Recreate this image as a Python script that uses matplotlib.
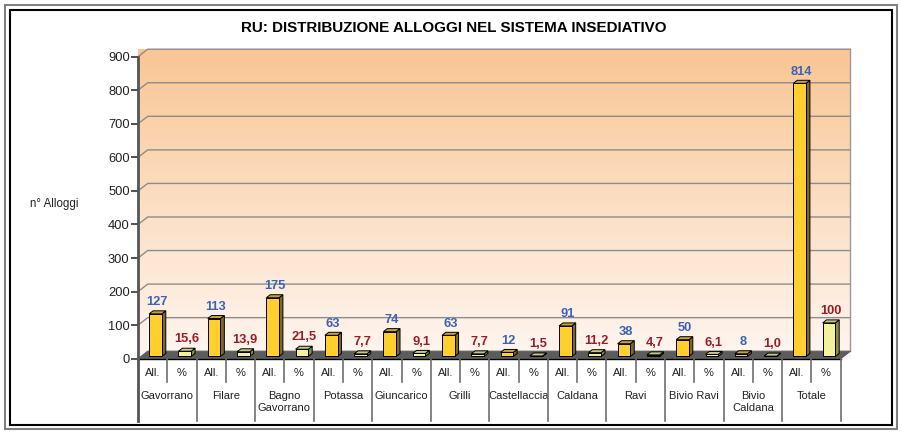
import numpy as np
import matplotlib
matplotlib.use('Agg')
import matplotlib.pyplot as plt
from matplotlib.patches import Polygon, Rectangle

plt.rcParams['font.family'] = ['Liberation Sans', 'DejaVu Sans']

# --- data ---
localita = ['Gavorrano', 'Filare', 'Bagno\nGavorrano', 'Potassa', 'Giuncarico',
            'Grilli', 'Castellaccia', 'Caldana', 'Ravi', 'Bivio Ravi',
            'Bivio\nCaldana', 'Totale']
alloggi = [127, 113, 175, 63, 74, 63, 12, 91, 38, 50, 8, 814]
percent = [15.6, 13.9, 21.5, 7.7, 9.1, 7.7, 1.5, 11.2, 4.7, 6.1, 1.0, 100]
sub_labels = ['All.', '%']
yticks = list(range(0, 1000, 100))

W, H = 903, 432
fig = plt.figure(figsize=(W / 100, H / 100), dpi=100)

# front plot box in pixels
x_left, x_right = 138, 840.7
y_zero, y_top = 358.7, 56.7
ax = fig.add_axes([x_left / W, 1 - y_zero / H, (x_right - x_left) / W, (y_zero - y_top) / H])
nslot = 2 * len(localita)

sx = (x_right - x_left) / nslot   # px per slot
sy = (y_zero - y_top) / 900       # px per unit
ddx = 9.7 / sx
ddy = 7.5 / sy

# back + side wall with gradient
grad = np.linspace(0, 1, 256)[:, None]
top_c = np.array([249, 198, 148]) / 255
bot_c = np.array([255, 246, 241]) / 255
img = bot_c[None, None, :] * (1 - grad[..., None]) + top_c[None, None, :] * grad[..., None]
im = ax.imshow(img, extent=[0, nslot + ddx, 0, 900 + ddy], origin='lower',
               aspect='auto', zorder=0, clip_on=False)
wall = Polygon([(0, 0), (0, 900), (ddx, 900 + ddy), (nslot + ddx, 900 + ddy),
                (nslot + ddx, ddy), (nslot, 0)], closed=True, facecolor='none',
               edgecolor='none', transform=ax.transData)
ax.add_patch(wall)
im.set_clip_path(wall)
ax.set_xlim(0, nslot)
ax.set_ylim(0, 900)

# gridlines
for v in yticks[1:]:
    ax.plot([0, ddx, nslot + ddx], [v, v + ddy, v + ddy], color='#8c8c8c',
            lw=1, zorder=1, clip_on=False)
ax.plot([nslot + ddx, nslot + ddx], [ddy, 900 + ddy], color='#9a9a9a', lw=1,
        zorder=1, clip_on=False)

# floor
ax.add_patch(Polygon([(0, 0), (ddx, ddy), (nslot + ddx, ddy), (nslot, 0)],
                     closed=True, facecolor='#5c5c5c', edgecolor='#5c5c5c',
                     lw=0.8, zorder=2, clip_on=False))

# bars
bw = 12.7 / sx
f0, f1 = 0.3, 0.7
styles = [
    dict(front='#ffcf2f', top='#c9a52e', side='#7d6826', txt='#3a63b5'),
    dict(front='#f3f19c', top='#c9c787', side='#8a8a4e', txt='#9c1c24'),
]
for g in range(len(localita)):
    for k, vals in enumerate([alloggi, percent]):
        v = vals[g]
        st = styles[k]
        c = 2 * g + k + 0.5
        x0 = c - bw / 2 + f0 * ddx
        x1 = c + bw / 2 + f0 * ddx
        yb = f0 * ddy
        dx = (f1 - f0) * ddx
        dy = (f1 - f0) * ddy
        ax.add_patch(Polygon([(x1, yb), (x1, v + yb), (x1 + dx, v + yb + dy), (x1 + dx, yb + dy)],
                             closed=True, facecolor=st['side'], edgecolor='black',
                             lw=0.7, zorder=4, clip_on=False))
        ax.add_patch(Polygon([(x0, v + yb), (x0 + dx, v + yb + dy), (x1 + dx, v + yb + dy), (x1, v + yb)],
                             closed=True, facecolor=st['top'], edgecolor='black',
                             lw=0.7, zorder=4, clip_on=False))
        ax.add_patch(Rectangle((x0, yb), bw, v, facecolor=st['front'], edgecolor='black',
                               lw=0.7, zorder=5, clip_on=False))
        lab = f'{v:.1f}'.replace('.', ',') if k == 1 and v != 100 else f'{v:g}'
        ax.annotate(lab, (c + (f0 + f1) / 2 * ddx, v + f1 * ddy), xytext=(0, 2),
                    textcoords='offset points', ha='center', va='bottom',
                    fontsize=9.3, fontweight='bold', color=st['txt'], zorder=6)

# axes styling
for s in ['top', 'right', 'bottom']:
    ax.spines[s].set_visible(False)
ax.spines['left'].set_color('#555555')
ax.spines['left'].set_linewidth(2)
ax.spines['left'].set_zorder(7)
ax.set_yticks(yticks)
ax.tick_params(axis='y', direction='out', length=5, width=1.2, color='#333333',
               labelsize=9.3, pad=1, labelcolor='#222222')
ax.set_xticks([])

# category table below
def py(px):
    return -(px - y_zero) / sy

ax.plot([0, nslot], [0, 0], color='black', lw=1, zorder=7, clip_on=False)
ax.plot([0, 0], [0, py(421)], color='#555555', lw=2, zorder=7, clip_on=False)
for g in range(1, len(localita) + 1):
    ax.plot([2 * g, 2 * g], [0, py(421)], color='#6e6e6e', lw=1.2, zorder=7, clip_on=False)
for g in range(len(localita)):
    ax.plot([2 * g + 1, 2 * g + 1], [0, py(381.7)], color='#6e6e6e', lw=1.2,
            zorder=7, clip_on=False)
    for k in range(2):
        ax.text(2 * g + k + 0.5, py(372.7), sub_labels[k], ha='center', va='center',
                fontsize=8, color='#222222')
    ax.text(2 * g + 1, py(391), localita[g], ha='center', va='top', fontsize=8,
            linespacing=1.25, color='#222222')

# title and axis label
fig.text(454 / W, 1 - 28 / H, 'RU: DISTRIBUZIONE ALLOGGI NEL SISTEMA INSEDIATIVO',
         ha='center', va='center', fontsize=10.9, fontweight='bold')
fig.text(30 / W, 1 - 204 / H, 'n° Alloggi', ha='left', va='center', fontsize=8.3,
         color='#222222')

# frame
fig.patches.append(Rectangle((5 / W, 1 - 429 / H), (896.7 - 5) / W, (429 - 5) / H,
                             transform=fig.transFigure, fill=False,
                             edgecolor='#808080', lw=1.5))
fig.patches.append(Rectangle((10 / W, 1 - 425 / H), (891.7 - 10) / W, (425 - 10) / H,
                             transform=fig.transFigure, fill=False,
                             edgecolor='black', lw=1.5))

fig.savefig('out.png', dpi=100)
